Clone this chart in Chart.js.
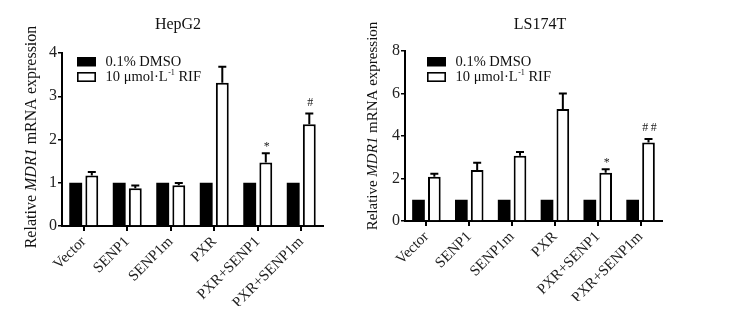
<!DOCTYPE html>
<html lang="en">
<head>
  <meta charset="UTF-8">
  <title>MDR1 mRNA expression</title>
  <script src="https://cdn.jsdelivr.net/npm/chart.js"></script>
  <style>
    body { margin: 0; background: #ffffff; }
    .wrap { position: relative; width: 744px; height: 320px; }
    .wrap canvas { position: absolute; left: 0; top: 0; }
  </style>
</head>
<body>
  <div class="wrap">
    <canvas id="hepChart" width="744" height="320"></canvas>
    <canvas id="lsChart" width="744" height="320"></canvas>
  </div>

  <script>
    // data
    const categories = ['Vector', 'SENP1', 'SENP1m', 'PXR', 'PXR+SENP1', 'PXR+SENP1m'];
    const seriesNames = ['0.1% DMSO', '10 μmol·L-1 RIF'];

    const hepDmso = [1, 1, 1, 1, 1, 1];
    const hepRif = [1.17, 0.87, 0.94, 3.31, 1.47, 2.35];
    const hepRifErr = [0.08, 0.065, 0.055, 0.37, 0.21, 0.25];
    const hepMarks = ['', '', '', '', '*', '#'];
    const hepTicks = [0, 1, 2, 3, 4];

    const lsDmso = [1, 1, 1, 1, 1, 1];
    const lsRif = [2.08, 2.4, 3.07, 5.27, 2.27, 3.70];
    const lsRifErr = [0.14, 0.34, 0.18, 0.73, 0.16, 0.16];
    const lsMarks = ['', '', '', '', '*', '##'];
    const lsTicks = [0, 2, 4, 6, 8];

    const SERIF = "'Liberation Serif', 'Times New Roman', serif";

    // titles, y title with italic gene name, legend, error bars and marks
    const decoPlugin = {
      id: 'deco',
      afterDatasetsDraw(chart, args, o) {
        const ctx = chart.ctx;
        const y = chart.scales.y;
        const meta = chart.getDatasetMeta(1);
        ctx.save();

        // error bars (upper only)
        ctx.strokeStyle = '#000';
        ctx.lineWidth = 2;
        meta.data.forEach((bar, i) => {
          const top = y.getPixelForValue(chart.data.datasets[1].data[i]);
          const cap = y.getPixelForValue(chart.data.datasets[1].data[i] + o.errors[i]);
          ctx.beginPath();
          ctx.moveTo(bar.x, top);
          ctx.lineTo(bar.x, cap);
          ctx.moveTo(bar.x - 4, cap);
          ctx.lineTo(bar.x + 4, cap);
          ctx.stroke();

          const m = o.marks[i];
          if (m) {
            ctx.fillStyle = '#222';
            ctx.font = '12px ' + SERIF;
            ctx.textAlign = 'center';
            ctx.textBaseline = 'alphabetic';
            ctx.fillText(m.split('').join('\u2009'), bar.x + 1, cap - (m.includes('#') ? 8 : 3));
          }
        });

        // chart title
        ctx.fillStyle = '#111';
        ctx.font = o.titleSize + 'px ' + SERIF;
        ctx.textAlign = 'center';
        ctx.textBaseline = 'middle';
        ctx.fillText(o.title, o.titleX, o.titleY);

        // y axis title, rotated
        ctx.save();
        ctx.translate(o.yTitleX, o.yTitleY);
        ctx.rotate(-Math.PI / 2);
        const parts = [
          ['Relative ', ''],
          ['MDR1', 'italic '],
          [' mRNA expression', '']
        ];
        let total = 0;
        parts.forEach(p => {
          ctx.font = p[1] + o.yTitleSize + 'px ' + SERIF;
          total += ctx.measureText(p[0]).width;
        });
        let x = -total / 2;
        ctx.textAlign = 'left';
        parts.forEach(p => {
          ctx.font = p[1] + o.yTitleSize + 'px ' + SERIF;
          ctx.fillText(p[0], x, 0);
          x += ctx.measureText(p[0]).width;
        });
        ctx.restore();

        // legend
        const lx = o.legendX, ly = o.legendY;
        ctx.fillStyle = '#000';
        ctx.fillRect(lx, ly, 19, 9.5);
        ctx.lineWidth = 1.6;
        ctx.strokeStyle = '#000';
        ctx.fillStyle = '#fff';
        ctx.fillRect(lx + 0.8, ly + 15.8, 17.4, 8.4);
        ctx.strokeRect(lx + 0.8, ly + 15.8, 17.4, 8.4);

        ctx.fillStyle = '#111';
        ctx.textAlign = 'left';
        ctx.textBaseline = 'middle';
        ctx.font = '14.5px ' + SERIF;
        const tx = lx + 28.5;
        ctx.fillText(seriesNames[0], tx, ly + 5);
        const [pre, rest] = seriesNames[1].split('-1');
        ctx.fillText(pre, tx, ly + 20.5);
        let sx = tx + ctx.measureText(pre).width + 0.5;
        ctx.font = '8px ' + SERIF;
        ctx.fillText('-1', sx, ly + 16);
        sx += ctx.measureText('-1').width;
        ctx.font = '14.5px ' + SERIF;
        ctx.fillText(rest, sx, ly + 20.5);

        ctx.restore();
      }
    };

    function makeChart(id, dmso, rif, ticks, pad, deco) {
      return new Chart(document.getElementById(id), {
        type: 'bar',
        data: {
          labels: categories,
          datasets: [
            {
              label: seriesNames[0],
              data: dmso,
              backgroundColor: '#000',
              borderColor: '#000',
              borderWidth: 0,
              categoryPercentage: 0.74,
              barPercentage: 0.8
            },
            {
              label: seriesNames[1],
              data: rif,
              backgroundColor: '#fff',
              borderColor: '#000',
              borderWidth: 2,
              categoryPercentage: 0.74,
              barPercentage: 0.8
            }
          ]
        },
        options: {
          responsive: false,
          animation: false,
          devicePixelRatio: 1,
          layout: { padding: pad },
          plugins: {
            legend: { display: false },
            tooltip: { enabled: false },
            deco: deco
          },
          scales: {
            x: {
              afterFit(s) { s.height = 80; },
              grid: {
                offset: false,
                drawOnChartArea: false,
                drawTicks: true,
                tickLength: 5,
                color: '#000',
                lineWidth: 2
              },
              border: { display: true, color: '#000', width: 2 },
              ticks: {
                autoSkip: false,
                minRotation: 45,
                maxRotation: 45,
                padding: 2,
                color: '#222',
                font: { family: SERIF, size: 15 }
              }
            },
            y: {
              min: ticks[0],
              max: ticks[ticks.length - 1],
              afterFit(s) { s.width = 30; },
              afterBuildTicks(s) { s.ticks = ticks.map(v => ({ value: v })); },
              grid: {
                drawOnChartArea: false,
                drawTicks: true,
                tickLength: 4,
                color: '#000',
                lineWidth: 1.5
              },
              border: { display: true, color: '#000', width: 2 },
              ticks: {
                padding: 1,
                color: '#222',
                font: { family: SERIF, size: 16 }
              }
            }
          }
        },
        plugins: [decoPlugin]
      });
    }

    makeChart('hepChart', hepDmso, hepRif, hepTicks,
      { left: 32, right: 421, top: 53, bottom: 14 },
      { errors: hepRifErr, marks: hepMarks, title: 'HepG2', titleSize: 16, titleX: 178, titleY: 25,
        yTitleX: 32, yTitleY: 137, yTitleSize: 16, legendX: 77, legendY: 57 });

    makeChart('lsChart', lsDmso, lsRif, lsTicks,
      { left: 375, right: 82, top: 51, bottom: 19 },
      { errors: lsRifErr, marks: lsMarks, title: 'LS174T', titleSize: 16, titleX: 540, titleY: 25,
        yTitleX: 373, yTitleY: 126, yTitleSize: 15, legendX: 427, legendY: 57 });
  </script>
</body>
</html>
